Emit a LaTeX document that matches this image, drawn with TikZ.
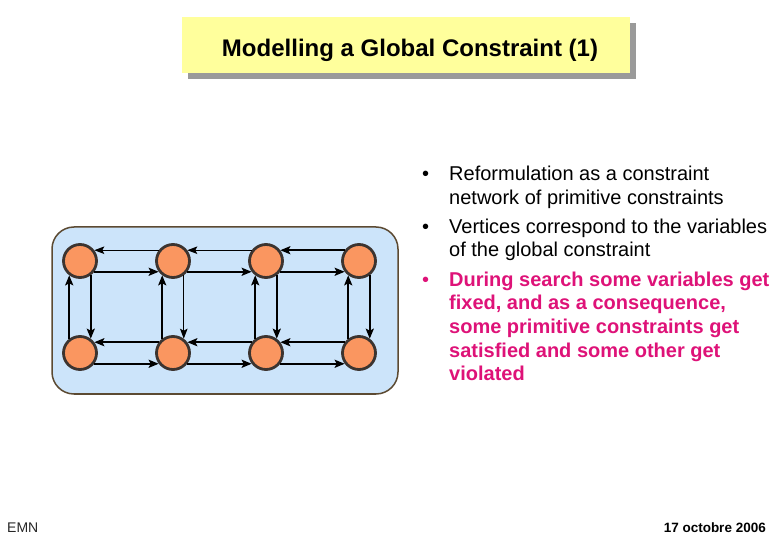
\documentclass[tikz,border=0pt]{standalone}
\usepackage{fontspec}
\setmainfont{Liberation Sans}
\usetikzlibrary{arrows.meta}
\definecolor{boxblue}{HTML}{CCE4FA}
\definecolor{boxedge}{HTML}{5C4A32}
\definecolor{vorange}{HTML}{FA9660}
\definecolor{vedge}{HTML}{3C3430}
\definecolor{titleyel}{HTML}{FFFF9C}
\definecolor{shadowgray}{HTML}{9A9A9A}
\definecolor{pinktxt}{HTML}{DE1278}
\tikzset{
  vert/.style={circle,fill=vorange,draw=vedge,line width=2.8pt,minimum size=33pt,inner sep=0pt},
  thk/.style={line width=2.2pt,-{Stealth[length=10pt,width=8pt,inset=2pt]}},
  thn/.style={line width=1.1pt,-{Stealth[length=10pt,width=7.5pt,inset=2pt]}},
  bline/.style={anchor=base west,inner sep=0pt,font=\fontsize{20}{24}\selectfont},
  pline/.style={bline,text=pinktxt,font=\fontsize{20}{24}\selectfont\bfseries},
}
\begin{document}
\begin{tikzpicture}[x=1pt,y=-1pt]
\useasboundingbox (0,0) rectangle (780,540);
% title
\fill[shadowgray] (188,23) rectangle (636,79);
\node[fill=titleyel,minimum width=448pt,minimum height=56pt,inner sep=0pt] (titlebox) at (406,45) {};
\node[anchor=base,inner sep=0pt,font=\fontsize{24}{28}\selectfont\bfseries] (title) at (410,57) {Modelling a Global Constraint (1)};
% network box
\draw[fill=boxblue,draw=boxedge,line width=1.5pt,rounded corners=22pt] (52,227) rectangle (398,394);
\foreach \i/\x in {1/80,2/173,3/266,4/359}{
  \node[vert] (t\i) at (\x,261) {};
  \node[vert] (b\i) at (\x,353) {};
}
% horizontal arrows, top row
\draw[thk] (t1.-37) -- (t2.-143);
\draw[thn] (t2.143) -- (t1.37);
\draw[thk] (t2.-37) -- (t3.-143);
\draw[thn] (t3.143) -- (t2.37);
\draw[thk] (t3.-37) -- (t4.-143);
\draw[thk] (t4.143) -- (t3.37);
% bottom row
\draw[thk] (b1.-37) -- (b2.-143);
\draw[thk] (b2.143) -- (b1.37);
\draw[thk] (b2.-37) -- (b3.-143);
\draw[thk] (b3.143) -- (b2.37);
\draw[thk] (b3.-37) -- (b4.-143);
\draw[thk] (b4.143) -- (b3.37);
% verticals
\draw[thk] (b1.127) -- (t1.233);
\draw[thk] (t1.307) -- (b1.53);
\draw[thk] (b2.127) -- (t2.233);
\draw[thn] (t2.307) -- (b2.53);
\draw[thk] (b3.127) -- (t3.233);
\draw[thk] (t3.307) -- (b3.53);
\draw[thk] (b4.127) -- (t4.233);
\draw[thk] (t4.307) -- (b4.53);
% bullets
\node[bline] (d1) at (422,181) {•};
\node[bline] (l1) at (449,181) {Reformulation as a constraint};
\node[bline] (l2) at (449,205) {network of primitive constraints};
\node[bline] (d2) at (422,233.5) {•};
\node[bline] (l3) at (449,233.5) {Vertices correspond to the variables};
\node[bline] (l4) at (449,257) {of the global constraint};
\node[pline,font=\fontsize{20}{24}\selectfont] (d3) at (422,286.5) {•};
\node[pline] (l5) at (449,286.5) {During search some variables get};
\node[pline] (l6) at (449,310) {fixed, and as a consequence,};
\node[pline] (l7) at (449,333.7) {some primitive constraints get};
\node[pline] (l8) at (449,357.3) {satisfied and some other get};
\node[pline] (l9) at (449,381) {violated};
% footer
\node[anchor=base west,inner sep=0pt,font=\fontsize{14}{16}\selectfont,text=black!85] (emn) at (7,532) {EMN};
\node[anchor=base east,inner sep=0pt,font=\fontsize{13.5}{16}\selectfont\bfseries] (date) at (766,532) {17 octobre 2006};
\end{tikzpicture}
\end{document}
